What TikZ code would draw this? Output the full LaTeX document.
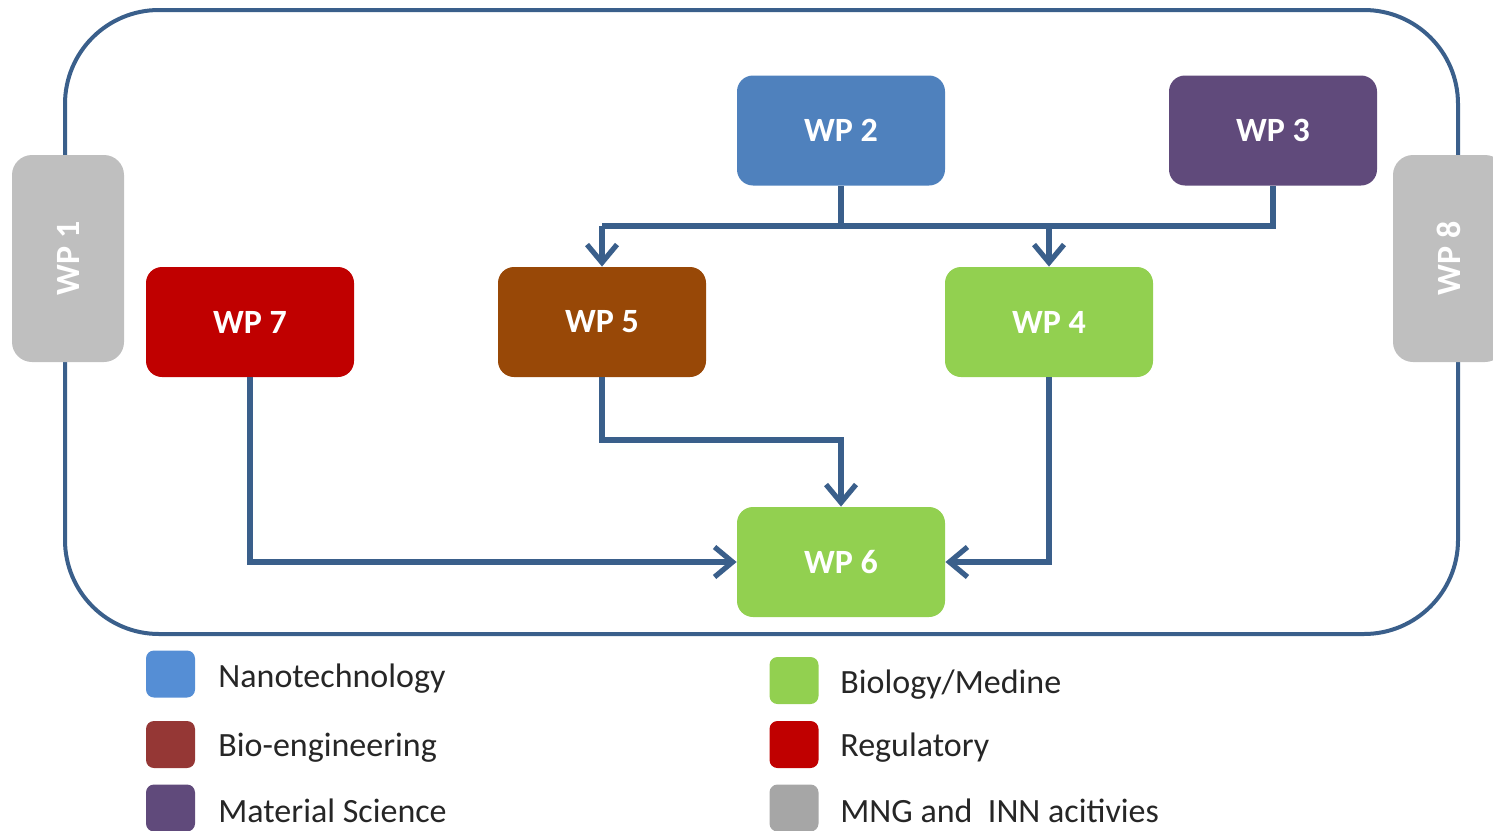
\documentclass[tikz,border=0pt]{standalone}
\usepackage{fontspec}
\setmainfont{Carlito}
\usetikzlibrary{arrows.meta}
\definecolor{wpblue}{HTML}{4F81BD}
\definecolor{wppurple}{HTML}{604A7B}
\definecolor{wpred}{HTML}{C00000}
\definecolor{wpbrown}{HTML}{984807}
\definecolor{wpgreen}{HTML}{92D050}
\definecolor{wpgray}{HTML}{BFBFBF}
\definecolor{legblue}{HTML}{558ED5}
\definecolor{legbio}{HTML}{953735}
\definecolor{leggray}{HTML}{A6A6A6}
\definecolor{linecol}{HTML}{3A5F8B}
\tikzset{
  wpbox/.style={rounded corners=8pt, minimum width=104pt, minimum height=55pt, inner sep=0pt,
    text=white, font=\bfseries\fontsize{17}{20}\selectfont},
  sidebox/.style={rounded corners=10pt, minimum width=56pt, minimum height=103.5pt, inner sep=0pt,
    fill=wpgray},
  sidelabel/.style={text=white, font=\bfseries\fontsize{17}{20}\selectfont, rotate=90, inner sep=0pt},
  conn/.style={draw=linecol, line width=2.6pt},
  arr/.style={conn, -{Straight Barb[length=9pt,width=15pt,line width=2.6pt]}},
  legbox/.style={rounded corners=4pt, minimum width=24.5pt, minimum height=23.5pt, inner sep=0pt},
  legtext/.style={anchor=west, inner sep=0pt, font=\fontsize{17}{20}\selectfont, text=black!85}
}
\begin{document}
\begin{tikzpicture}[x=0.5pt,y=-0.5pt]
\useasboundingbox (0,0) rectangle (1493,830);
\clip (0,0) rectangle (1493,830);
% outer frame
\draw[draw=linecol, line width=2pt, rounded corners=47pt] (65,10) rectangle (1458,634);
% side boxes
\node[sidebox] (wp1) at (68,258.5) {};
\node[sidelabel] (wp1t) at (wp1.center) {WP 1};
\node[sidebox] (wp8) at (1449,258.5) {};
\node[sidelabel] (wp8t) at (wp8.center) {WP 8};
% work packages
\node[wpbox, fill=wpblue] (wp2) at (841,130.5) {WP 2};
\node[wpbox, fill=wppurple] (wp3) at (1273,130.5) {WP 3};
\node[wpbox, fill=wpred] (wp7) at (250,322) {WP 7};
\node[wpbox, fill=wpbrown] (wp5) at (602,322) {WP 5};
\node[wpbox, fill=wpgreen] (wp4) at (1049,322) {WP 4};
\node[wpbox, fill=wpgreen] (wp6) at (841,562) {WP 6};
% connectors
\coordinate (hl) at (602,226);
\coordinate (hr) at (1273,226);
\coordinate (b5) at (841,440);
\draw[conn] (wp2.south) -- (wp2.south |- hl);
\draw[conn] (hl) -- (hr) -- (wp3.south);
\draw[arr] (hl) -- (wp5.north);
\draw[arr] (wp4.north |- hl) -- (wp4.north);
\draw[arr] (wp5.south) |- (b5) -- (wp6.north);
\draw[arr] (wp7.south) |- (wp6.west);
\draw[arr] (wp4.south) |- (wp6.east);
% legend
\node[legbox, fill=legblue] (l1) at (170.5,674) {};
\node[legtext] (t1) at (218,679) {Nanotechnology};
\node[legbox, fill=legbio] (l2) at (170.5,744.5) {};
\node[legtext] (t2) at (218,748) {Bio-engineering};
\node[legbox, fill=wppurple] (l3) at (170.5,808) {};
\node[legtext] (t3) at (218,811) {Material Science};
\node[legbox, fill=wpgreen] (l4) at (794,680.5) {};
\node[legtext] (t4) at (840,685) {Biology/Medine};
\node[legbox, fill=wpred] (l5) at (794,744.5) {};
\node[legtext] (t5) at (840,748) {Regulatory};
\node[legbox, fill=leggray] (l6) at (794,808) {};
\node[legtext] (t6) at (840,811) {MNG and\ \ INN acitivies};
\end{tikzpicture}
\end{document}
